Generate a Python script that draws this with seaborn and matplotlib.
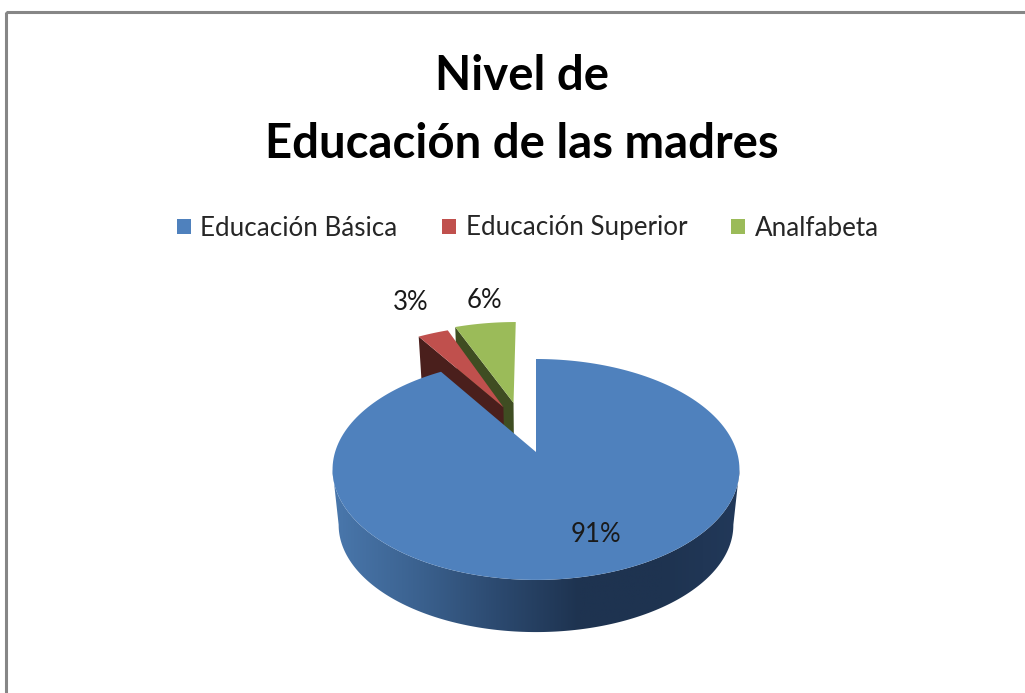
import numpy as np
import matplotlib
matplotlib.use("Agg")
import matplotlib.pyplot as plt
import seaborn as sns
from matplotlib.patches import Polygon, Patch, Rectangle

# datos
categorias = ['Educación Básica', 'Educación Superior', 'Analfabeta']
porcentajes = [91, 3, 6]
titulo = 'Nivel de\nEducación de las madres'

colores = ['#4F81BD', '#C0504D', '#9BBB59']
lados = ['#2F4F78', '#4A1F1C', '#3F4D22']

sns.set_theme(style="white")
plt.rcParams['font.family'] = ['Lato', 'DejaVu Sans']

fig = plt.figure(figsize=(10.25, 6.93), dpi=100, facecolor='white')
ax = fig.add_axes([0, 0, 1, 1])

# la torta normal da los angulos, despues se proyecta en 3D
wedges, _ = ax.pie(porcentajes, explode=[0, 0.5, 0.5], startangle=90,
                   counterclock=False, frame=False)
for w in wedges:
    w.set_visible(False)

cx, cy = 536, 452   # vertice de la porcion azul
a, b, k = 107.7, 200.9, 0.158
prof, esc = 56, 0.97
ajuste = [0, 10, -5]


def proyectar(x, y, bajo=False, dx=0):
    x, y = np.asarray(x, float), np.asarray(y, float)
    w = 1 + k * y
    px, py = b * x / w, -a * y / w
    if bajo:
        return np.column_stack([cx + dx + px * esc, cy + py * esc + prof])
    return np.column_stack([cx + dx + px, cy + py])


def porcion(w, dx=0, bajo=False):
    t = np.radians(np.linspace(w.theta1, w.theta2, 200))
    x = np.r_[w.center[0], w.center[0] + np.cos(t)]
    y = np.r_[w.center[1], w.center[1] + np.sin(t)]
    return proyectar(x, y, bajo, dx)


ax.set_xlim(0, 1025)
ax.set_ylim(693, 0)
ax.set_aspect('auto')
ax.axis('off')

# marco
ax.add_patch(Rectangle((5.5, 11.5), 1100, 800, fill=False, ec='#868686', lw=2.2))

# porciones separadas: verde y roja
for i in (2, 1):
    w = wedges[i]
    arriba = porcion(w, ajuste[i])
    abajo = porcion(w, ajuste[i], bajo=True)
    # en sentido horario, el borde izquierdo es el primer punto del arco
    borde = int(np.argmin(arriba[1:, 0])) + 1
    cara = np.vstack([arriba[0], arriba[borde], abajo[borde], abajo[0]])
    ax.add_patch(Polygon(cara, fc=lados[i], ec='none', zorder=2 + (2 - i) * 2))
    ax.add_patch(Polygon(arriba, fc=colores[i], ec='none', zorder=3 + (2 - i) * 2))

# pared de la porcion azul con degradado
w = wedges[0]
t = np.radians(np.linspace(0, 360, 721))
borde_x, borde_y = np.cos(t), np.sin(t)
p = proyectar(borde_x, borde_y)
i_izq, i_der = int(np.argmin(p[:, 0])), int(np.argmax(p[:, 0]))
idx = np.arange(i_izq, i_der + 1) if i_izq < i_der else np.r_[i_izq:721, 0:i_der + 1]
pared = np.vstack([p[idx], proyectar(borde_x[idx], borde_y[idx], bajo=True)[::-1]])

cmap = matplotlib.colors.LinearSegmentedColormap.from_list(
    'pared', ['#4A78AD', '#3C6391', '#2C4A70', '#1E3350', '#1E3350', '#22395A'])
im = ax.imshow(np.linspace(0, 1, 256).reshape(1, -1), cmap=cmap, aspect='auto',
               extent=(330, 745, 640, 450), zorder=6)
clip = Polygon(pared, transform=ax.transData, fc='none', ec='none')
ax.add_patch(clip)
im.set_clip_path(clip)

ax.add_patch(Polygon(porcion(w), fc=colores[0], ec='none', zorder=7))
ax.set_xlim(0, 1025)
ax.set_ylim(693, 0)

# etiquetas de porcentaje
pos_etiquetas = [(596, 534), (411, 303), (484, 301)]
for val, (x, y) in zip(porcentajes, pos_etiquetas):
    ax.text(x, y, f'{val}%', ha='center', va='center', fontsize=18.5,
            color='#1a1a1a', zorder=8)

# titulo
ax.text(522, 110, titulo, ha='center', va='center', fontsize=34, fontweight='bold',
        color='black', linespacing=1.68)

# leyenda
handles = [Patch(fc=c, ec='none') for c in colores]
ley = ax.legend(handles, categorias, ncol=3, loc='center', bbox_to_anchor=(528, 228),
                bbox_transform=ax.transData, frameon=False, fontsize=18.7,
                handlelength=0.54, handleheight=0.54, handletextpad=0.38,
                columnspacing=1.7)
for txt in ley.get_texts():
    txt.set_color('#262626')

fig.savefig('out.png', dpi=100)
